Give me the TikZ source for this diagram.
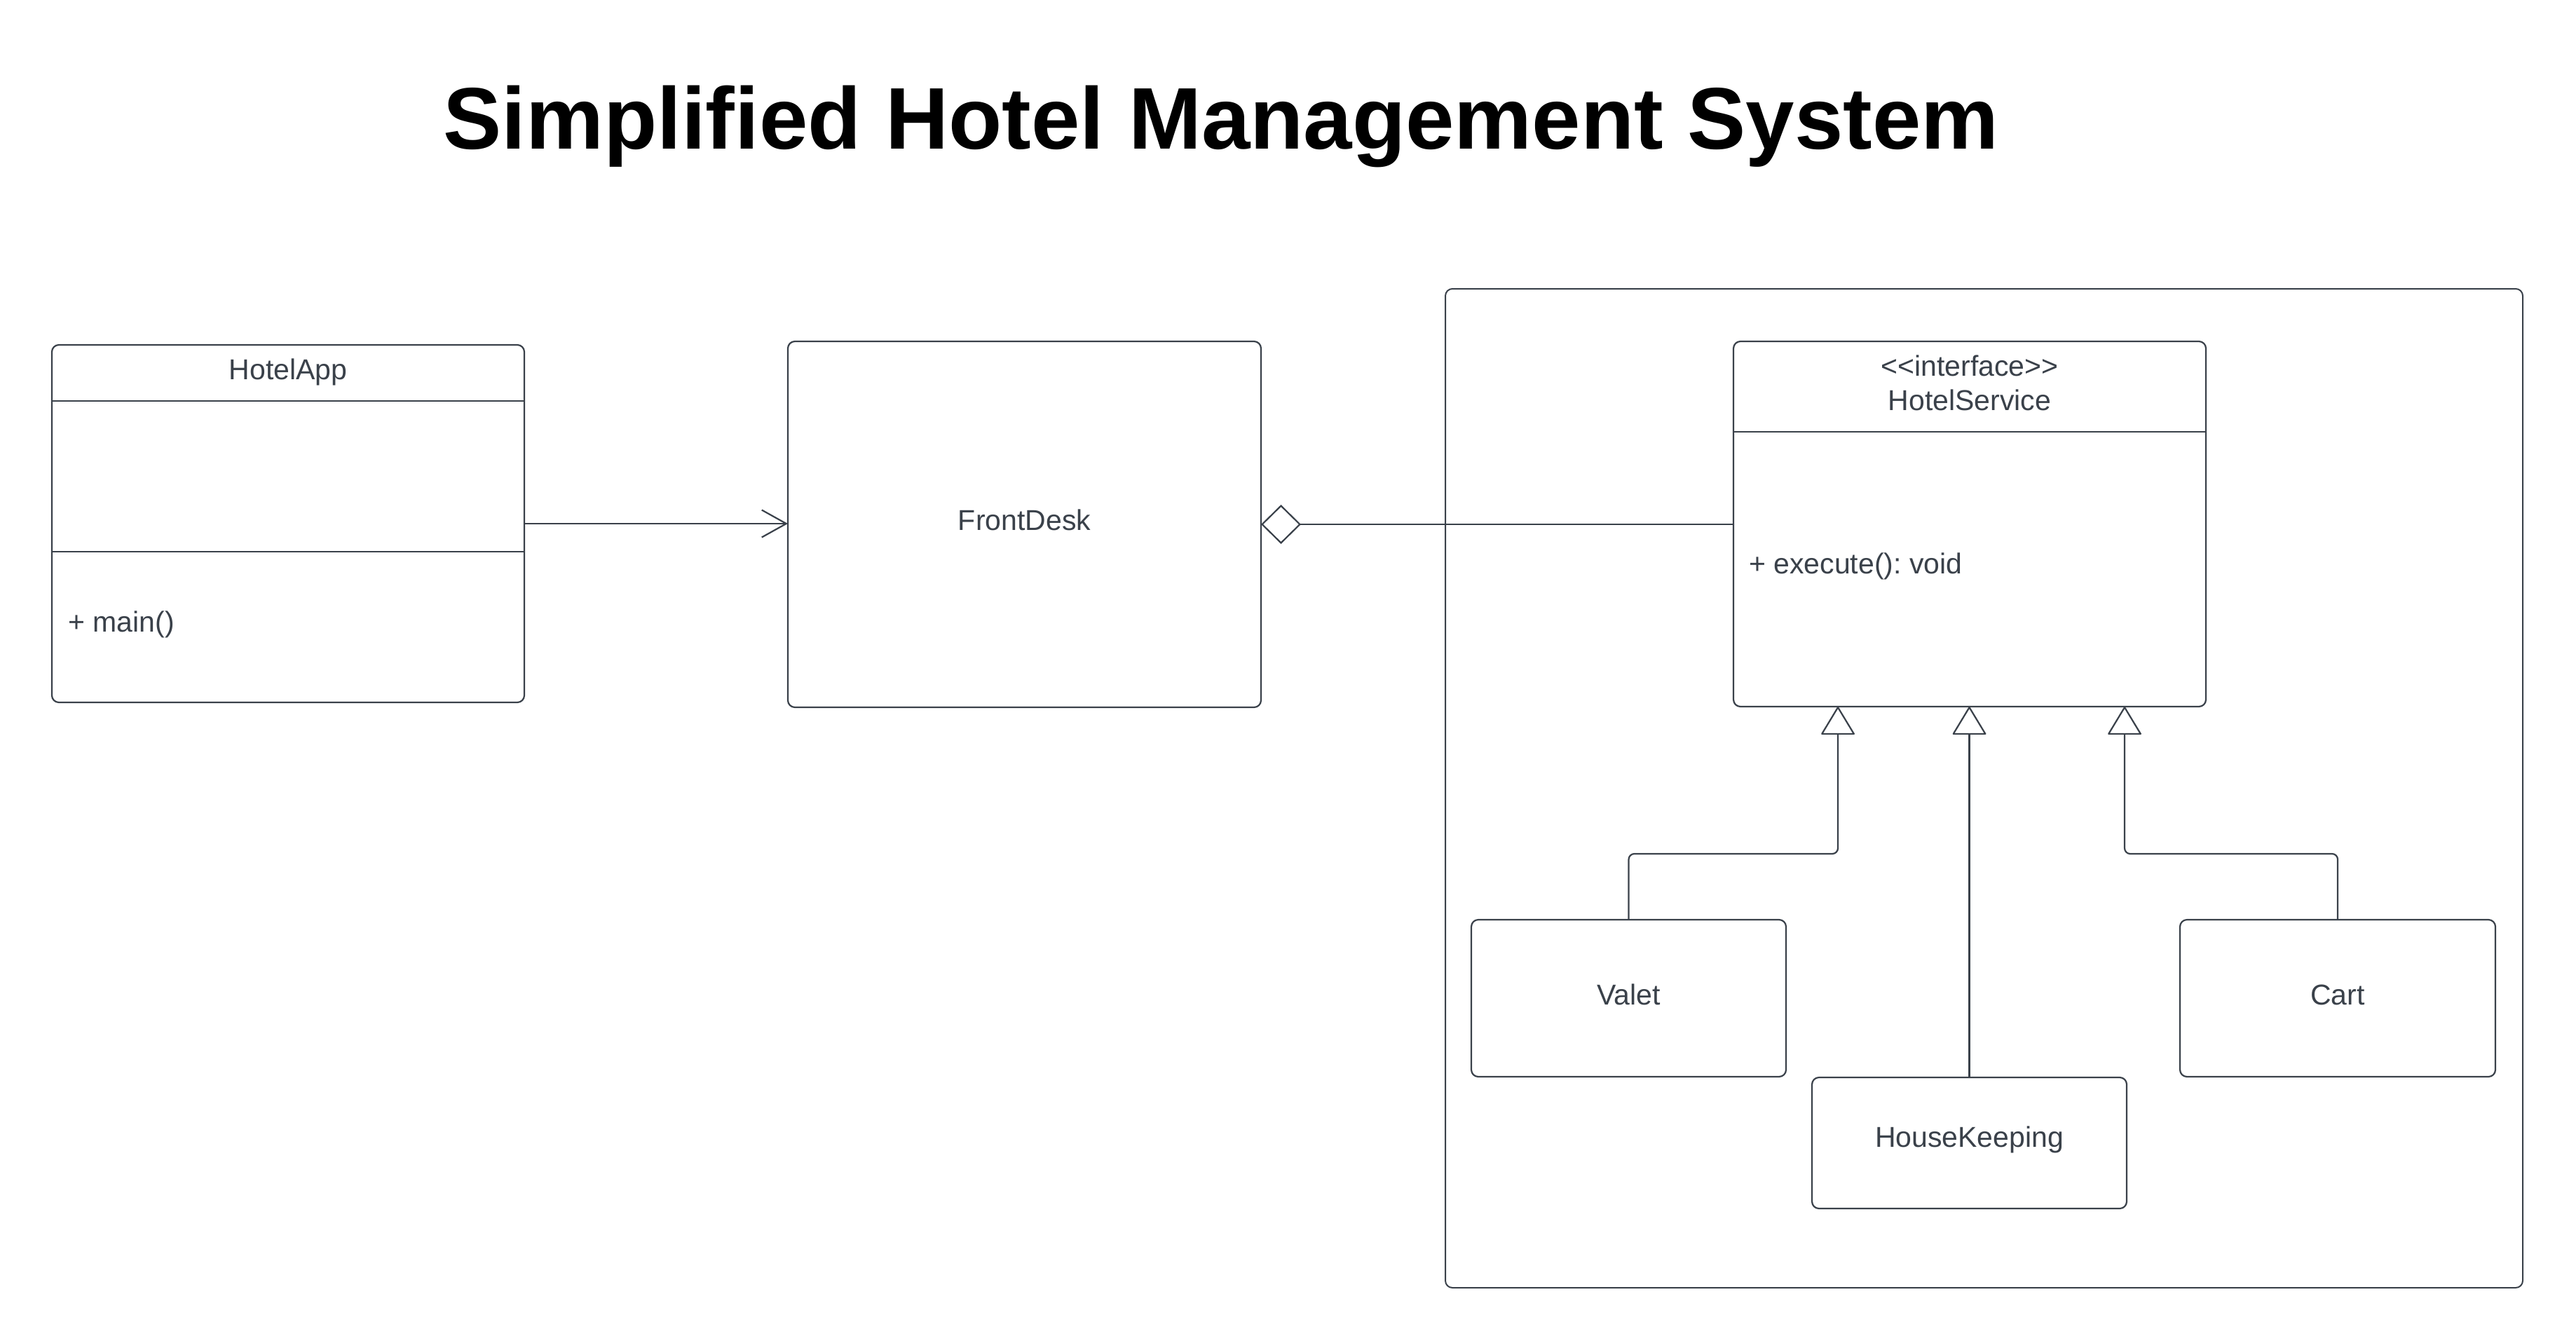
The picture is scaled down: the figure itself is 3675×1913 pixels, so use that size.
\documentclass[tikz,border=0pt]{standalone}
\usepackage{fontspec}
\setmainfont{Liberation Sans}
\usetikzlibrary{arrows.meta}
\definecolor{lc}{RGB}{58,65,74}
\frenchspacing
\begin{document}
\begin{tikzpicture}[x=1pt,y=-1pt,
  box/.style={draw=lc, line width=2.2pt, rounded corners=10pt, inner sep=0pt, outer sep=0pt, fill=white},
  ln/.style={draw=lc, line width=2.2pt},
  txt/.style={text=lc, font=\fontsize{41}{49}\selectfont, inner sep=0pt},
  gen/.style={ln, rounded corners=8pt, -{Triangle[open,length=41pt,width=49pt,round]}}]
\useasboundingbox (0,0) rectangle (3675,1913);
\fill[white] (0,0) rectangle (3675,1913);

\node[font=\bfseries\fontsize{124.8}{140}\selectfont, anchor=base] (title) at (1742,213) {Simplified Hotel Management System};

% package frame
\node[box, line width=2pt, minimum width=1537pt, minimum height=1425pt] (pkg) at (2830.5,1124.5) {};

% HotelApp
\node[box, minimum width=674pt, minimum height=510pt] (app) at (411,747) {};
\draw[ln] (74,572) -- (748,572);
\draw[ln] (74,787) -- (748,787);
\node[txt] (appname) at (411,531) {HotelApp};
\node[txt, anchor=west] (appmain) at (97,891) {+ main()};

% FrontDesk
\node[box, minimum width=675pt, minimum height=522pt] (fd) at (1461.5,748) {};
\node[txt] (fdname) at (1461.5,742) {FrontDesk};

% HotelService
\node[box, minimum width=674pt, minimum height=521pt] (hs) at (2810,747.5) {};
\draw[ln] (2473,616) -- (3147,616);
\node[txt] (hsster) at (2810,522) {<{}<interface>{}>};
\node[txt] (hsname) at (2810,571) {HotelService};
\node[txt, anchor=west] (hsop) at (2495,808) {+ execute(): void};

% implementations
\node[box, minimum width=449pt, minimum height=224pt] (valet) at (2323.5,1424) {};
\node[txt] (valetname) at (2323.5,1419) {Valet};
\node[box, minimum width=449pt, minimum height=187pt] (hk) at (2809.5,1630.5) {};
\node[txt] (hkname) at (2809.5,1626) {HouseKeeping};
\node[box, minimum width=450pt, minimum height=224pt] (cart) at (3335,1424) {};
\node[txt] (cartname) at (3335,1419) {Cart};

% connectors
\draw[ln, -{Straight Barb[length=35pt,width=39pt]}] (app.east) -- (app.east -| fd.west);
\draw[ln, {Diamond[open,length=57pt,width=56pt]}-] (fd.east) -- (fd.east -| hs.west);

\coordinate (hsA) at (2622,1008);
\coordinate (elbA) at (2622,1218);
\coordinate (hsC) at (3031,1008);
\coordinate (elbC) at (3031,1218);
\draw[gen] (valet.north) |- (elbA) -- (hsA);
\draw[gen] (hk.north) -- (hk.north |- hs.south);
\draw[gen] (cart.north) |- (elbC) -- (hsC);
\end{tikzpicture}
\end{document}
